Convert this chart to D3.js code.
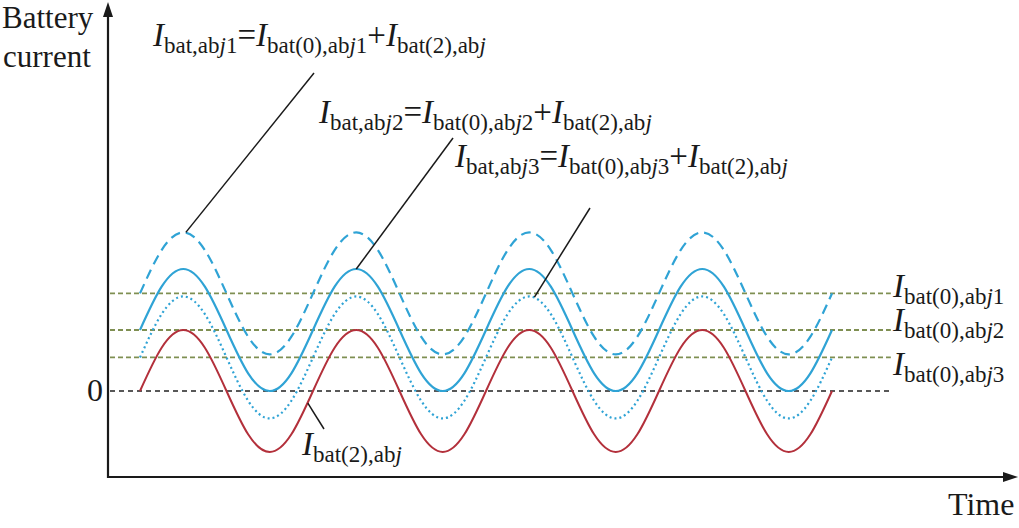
<!DOCTYPE html>
<html>
<head>
<meta charset="utf-8">
<script src="https://cdn.jsdelivr.net/npm/d3@7"></script>
<style>
  body { margin: 0; background: #fff; }
  text, tspan { font-family: "Liberation Serif", "Times New Roman", serif; fill: #1a1a1a; }
</style>
</head>
<body>
<div id="chart"></div>
<script>
// ripple current Ibat(2),abj sampled every 1/8 period (4 periods)
const ripple = [
  0, 0.71, 1, 0.71, 0, -0.71, -1, -0.71,
  0, 0.71, 1, 0.71, 0, -0.71, -1, -0.71,
  0, 0.71, 1, 0.71, 0, -0.71, -1, -0.71,
  0, 0.71, 1, 0.71, 0, -0.71, -1, -0.71,
  0
];
const sampleTimes = ripple.map((d, i) => i / 8);
// dc levels Ibat(0),abj1 .. abj3
const dcLevels = [1.6, 1.0, 0.55];
const dcNames = ['1', '2', '3'];
const lineEnd = 4.34;

const width = 1019;
const height = 528;
const axisX0 = 108;
const axisY0 = 477;

const blue = '#2fa3d5';
const red = '#b3303b';
const olive = '#7f8f52';

// Scales
var x = d3.scaleLinear().domain([0, 4]).range([140, 832]);
var y = d3.scaleLinear().domain([0, 1]).range([391, 330]);

var svg = d3.select('#chart')
  .append('svg')
  .attr('width', width)
  .attr('height', height);

svg.append('rect').attr('width', width).attr('height', height).attr('fill', '#fff');

// dc level lines
svg.selectAll('.dc')
  .data(dcLevels)
  .enter()
  .append('line')
  .attr('x1', axisX0 + 2)
  .attr('x2', x(lineEnd))
  .attr('y1', d => y(d))
  .attr('y2', d => y(d))
  .attr('stroke', olive)
  .attr('stroke-width', 1.8)
  .attr('stroke-dasharray', '5,3');

// zero line
svg.append('line')
  .attr('x1', axisX0 + 2)
  .attr('x2', x(lineEnd))
  .attr('y1', y(0))
  .attr('y2', y(0))
  .attr('stroke', '#222')
  .attr('stroke-width', 1.6)
  .attr('stroke-dasharray', '5,4');

var line = d3.line()
  .x((d, i) => x(sampleTimes[i]))
  .y(d => y(d))
  .curve(d3.curveNatural);

// battery currents = dc level + ripple
const dashes = ['10,6', null, '2,3'];
dcLevels.forEach(function (dc, k) {
  svg.append('path')
    .attr('d', line(ripple.map(r => dc + r)))
    .attr('fill', 'none')
    .attr('stroke', blue)
    .attr('stroke-width', 2.2)
    .attr('stroke-dasharray', dashes[k]);
});

svg.append('path')
  .attr('d', line(ripple))
  .attr('fill', 'none')
  .attr('stroke', red)
  .attr('stroke-width', 2);

// Axes with arrows
svg.append('line')
  .attr('x1', axisX0).attr('y1', axisY0 + 1)
  .attr('x2', axisX0).attr('y2', 12)
  .attr('stroke', '#1a1a1a').attr('stroke-width', 2.2);
svg.append('path')
  .attr('d', 'M' + axisX0 + ',2 L' + (axisX0 - 5) + ',17 L' + (axisX0 + 5) + ',17 Z')
  .attr('fill', '#1a1a1a');
svg.append('line')
  .attr('x1', axisX0 - 1).attr('y1', axisY0)
  .attr('x2', 1006).attr('y2', axisY0)
  .attr('stroke', '#1a1a1a').attr('stroke-width', 2.2);
svg.append('path')
  .attr('d', 'M1018,' + axisY0 + ' L1003,' + (axisY0 - 5) + ' L1003,' + (axisY0 + 5) + ' Z')
  .attr('fill', '#1a1a1a');

svg.append('text').attr('x', 2).attr('y', 28).attr('font-size', 31).text('Battery');
svg.append('text').attr('x', 3).attr('y', 67).attr('font-size', 31).text('current');
svg.append('text').attr('x', 948).attr('y', 515).attr('font-size', 32).text('Time');
svg.append('text').attr('x', 103).attr('y', 401).attr('font-size', 32)
  .attr('text-anchor', 'end').text('0');

// math label: I (italic) with subscripts, j italic
function mathLabel(px, py, parts) {
  var t = svg.append('text').attr('x', px).attr('y', py);
  var level = 0;
  parts.forEach(function (p) {
    var sub = p[1] !== 'm' && p[1] !== 'I';
    var newLevel = sub ? 7 : 0;
    t.append('tspan')
      .attr('dy', newLevel - level)
      .attr('font-size', sub ? 23 : 33)
      .attr('font-style', (p[1] === 'I' || p[1] === 'j') ? 'italic' : 'normal')
      .text(p[0]);
    level = newLevel;
  });
  return t;
}

function ibat(sub, n) {
  var parts = [['I', 'I'], ['bat' + sub + ',ab', 's'], ['j', 'j']];
  if (n) parts.push([n, 's']);
  return parts;
}

function sumLabel(n) {
  return ibat('', n).concat([['=', 'm']], ibat('(0)', n), [['+', 'm']], ibat('(2)', ''));
}

mathLabel(153, 46, sumLabel('1'));
mathLabel(319, 123, sumLabel('2'));
mathLabel(455, 167, sumLabel('3'));
mathLabel(302, 455, ibat('(2)', ''));

const rightDy = [4, 1, 18];
dcLevels.forEach(function (dc, k) {
  mathLabel(893, y(dc) + rightDy[k], ibat('(0)', dcNames[k]));
});

// leader lines: [time, value] on curve -> label point
const leaders = [
  [[0.265, dcLevels[0] + 1], [314, 73]],
  [[1.25, dcLevels[1] + 1], [453, 138]],
  [[2.28, dcLevels[2] + 0.99], [590, 208]],
  [[0.97, -0.2], [324, 429]]
];
svg.selectAll('.leader')
  .data(leaders)
  .enter()
  .append('line')
  .attr('x1', d => x(d[0][0]))
  .attr('y1', d => y(d[0][1]))
  .attr('x2', d => d[1][0])
  .attr('y2', d => d[1][1])
  .attr('stroke', '#1a1a1a')
  .attr('stroke-width', 1.5);
</script>
</body>
</html>
